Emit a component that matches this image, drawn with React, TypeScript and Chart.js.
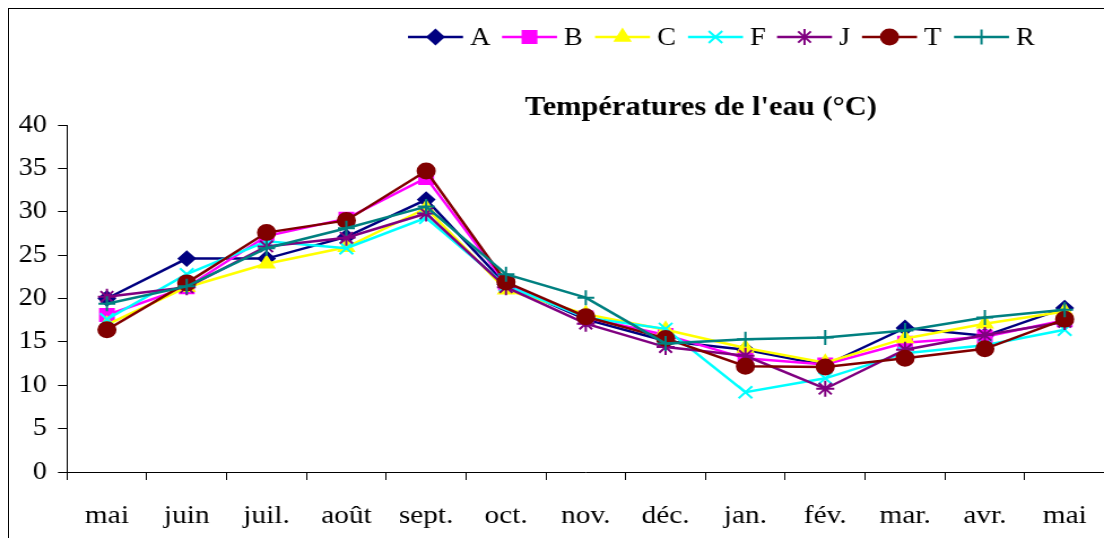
import React, { useEffect, useRef } from "react";
import { Chart, registerables } from "chart.js";

Chart.register(...registerables);

const MONTHS = ["mai", "juin", "juil.", "août", "sept.", "oct.", "nov.", "déc.", "jan.", "fév.", "mar.", "avr.", "mai"];

const SERIES_A = [20.0, 24.6, 24.6, 27.1, 31.4, 21.6, 17.6, 15.1, 14.1, 12.3, 16.6, 15.7, 18.9];
const SERIES_B = [18.1, 21.3, 27.2, 29.2, 33.9, 21.7, 17.8, 15.8, 13.1, 12.4, 14.9, 15.6, 17.5];
const SERIES_C = [17.0, 21.3, 24.0, 25.9, 30.4, 21.0, 18.2, 16.4, 14.3, 12.6, 15.4, 17.1, 18.5];
const SERIES_F = [17.6, 22.8, 26.6, 25.8, 29.3, 21.5, 17.8, 16.5, 9.2, 10.8, 13.7, 14.6, 16.4];
const SERIES_J = [20.2, 21.3, 26.0, 27.0, 29.8, 21.3, 17.1, 14.4, 13.4, 9.6, 14.1, 15.8, 17.3];
const SERIES_T = [16.4, 21.8, 27.6, 29.0, 34.7, 21.9, 17.9, 15.4, 12.2, 12.1, 13.1, 14.2, 17.6];
const SERIES_R = [19.4, 21.4, 25.8, 28.1, 30.6, 22.8, 20.1, 14.8, 15.3, 15.5, 16.3, 17.8, 18.7];

const SERIES_NAMES = ["A", "B", "C", "F", "J", "T", "R"];
const SERIES_DATA = [SERIES_A, SERIES_B, SERIES_C, SERIES_F, SERIES_J, SERIES_T, SERIES_R];
const SERIES_COLORS = ["#000080", "#FF00FF", "#FFFF00", "#00FFFF", "#800080", "#800000", "#008080"];
const SERIES_STYLES = ["rectRot", "rect", "triangle", "crossRot", "star", "circle", "cross"];
const SERIES_RADII = [7, 8.5, 7.5, 8.5, 8, 7.5, 7.5];

const TITLE = "Températures de l'eau (°C)";
const Y_MIN = 0;
const Y_MAX = 40;
const Y_STEP = 5;

const S = 1.13; // horizontal stretch of the reference
const FONT = "'Liberation Serif', 'Times New Roman', serif";
const LEGEND_X = [408, 502, 595, 688, 777, 862, 954];
const CW = 988;

function drawMarker(ctx: CanvasRenderingContext2D, style: string, x: number, y: number, r: number, color: string) {
  ctx.save();
  ctx.fillStyle = color;
  ctx.strokeStyle = color;
  ctx.lineWidth = 2;
  ctx.beginPath();
  const q = Math.SQRT1_2 * r;
  switch (style) {
    case "rectRot":
      ctx.moveTo(x - r, y);
      ctx.lineTo(x, y - r);
      ctx.lineTo(x + r, y);
      ctx.lineTo(x, y + r);
      ctx.closePath();
      ctx.fill();
      ctx.stroke();
      break;
    case "rect":
      ctx.rect(x - q, y - q, 2 * q, 2 * q);
      ctx.fill();
      ctx.stroke();
      break;
    case "triangle": {
      for (let k = 0; k < 3; k++) {
        const a = (k * 2 * Math.PI) / 3;
        const px = x + Math.sin(a) * r;
        const py = y - Math.cos(a) * r;
        if (k === 0) ctx.moveTo(px, py);
        else ctx.lineTo(px, py);
      }
      ctx.closePath();
      ctx.fill();
      ctx.stroke();
      break;
    }
    case "crossRot":
      ctx.moveTo(x - q, y - q);
      ctx.lineTo(x + q, y + q);
      ctx.moveTo(x - q, y + q);
      ctx.lineTo(x + q, y - q);
      ctx.stroke();
      break;
    case "star":
      ctx.moveTo(x - q, y - q);
      ctx.lineTo(x + q, y + q);
      ctx.moveTo(x - q, y + q);
      ctx.lineTo(x + q, y - q);
      ctx.moveTo(x, y - r);
      ctx.lineTo(x, y + r);
      ctx.moveTo(x - r, y);
      ctx.lineTo(x + r, y);
      ctx.stroke();
      break;
    case "circle":
      ctx.arc(x, y, r, 0, Math.PI * 2);
      ctx.fill();
      ctx.stroke();
      break;
    case "cross":
      ctx.moveTo(x, y - r);
      ctx.lineTo(x, y + r);
      ctx.moveTo(x - r, y);
      ctx.lineTo(x + r, y);
      ctx.stroke();
      break;
  }
  ctx.restore();
}

const overlayPlugin = {
  id: "overlayLegendTitle",
  afterDraw(chart: any) {
    const ctx: CanvasRenderingContext2D = chart.ctx;
    ctx.save();
    // title
    ctx.fillStyle = "#000";
    ctx.font = `bold 27px ${FONT}`;
    ctx.textAlign = "center";
    ctx.textBaseline = "middle";
    ctx.fillText(TITLE, 701 / S, 108);
    // legend
    const ly = 37;
    ctx.font = `25px ${FONT}`;
    ctx.textAlign = "left";
    SERIES_NAMES.forEach((name, i) => {
      const x0 = LEGEND_X[i] / S;
      const x1 = (LEGEND_X[i] + 55) / S;
      ctx.strokeStyle = SERIES_COLORS[i];
      ctx.lineWidth = 2.5;
      ctx.beginPath();
      ctx.moveTo(x0, ly);
      ctx.lineTo(x1, ly);
      ctx.stroke();
      drawMarker(ctx, SERIES_STYLES[i], (x0 + x1) / 2, ly, SERIES_RADII[i], SERIES_COLORS[i]);
      ctx.fillStyle = "#000";
      ctx.fillText(name, (LEGEND_X[i] + 62) / S, ly + 1);
    });
    ctx.restore();
  },
};

export default function App() {
  const ref = useRef<HTMLCanvasElement | null>(null);

  useEffect(() => {
    if (!ref.current) return;
    const chart = new Chart(ref.current, {
      type: "line",
      data: {
        labels: MONTHS,
        datasets: SERIES_NAMES.map((name, i) => ({
          label: name,
          data: SERIES_DATA[i],
          borderColor: SERIES_COLORS[i],
          backgroundColor: SERIES_COLORS[i],
          pointBackgroundColor: SERIES_COLORS[i],
          pointBorderColor: SERIES_COLORS[i],
          pointStyle: SERIES_STYLES[i] as any,
          pointRadius: SERIES_RADII[i],
          pointBorderWidth: 2,
          borderWidth: 2.5,
          tension: 0,
          fill: false,
          order: SERIES_NAMES.length - i,
        })),
      },
      options: {
        responsive: false,
        animation: false,
        layout: { padding: { top: 125, left: 0, right: 0, bottom: 0 } },
        plugins: {
          legend: { display: false },
          title: { display: false },
          tooltip: { enabled: false },
        },
        scales: {
          x: {
            offset: true,
            grid: { offset: true, drawOnChartArea: false, drawTicks: true, tickLength: 8, color: "#000", lineWidth: 1 },
            border: { color: "#000", width: 1 },
            ticks: { font: { family: FONT, size: 26 }, color: "#000", padding: 21, maxRotation: 0, autoSkip: false },
            afterFit: (s: any) => {
              s.height = 66;
            },
          },
          y: {
            min: Y_MIN,
            max: Y_MAX,
            grid: { drawOnChartArea: false, drawTicks: true, tickLength: 8, color: "#000", lineWidth: 1 },
            border: { color: "#000", width: 1 },
            ticks: { stepSize: Y_STEP, font: { family: FONT, size: 25 }, color: "#000", padding: 9.7 },
            afterFit: (s: any) => {
              s.width = 59.3;
            },
          },
        },
      },
      plugins: [overlayPlugin],
    });
    return () => chart.destroy();
  }, []);

  return (
    <div style={{ position: "fixed", left: 0, top: 0, width: 1104, height: 538, overflow: "hidden", background: "#fff" }}>
      <div
        style={{
          position: "absolute",
          left: 8,
          top: 8,
          width: 1200,
          height: 600,
          borderLeft: "1.5px solid #000",
          borderTop: "1.5px solid #000",
        }}
      />
      <div style={{ position: "absolute", left: 0, top: 0, width: CW, height: 538, transform: `scaleX(${S})`, transformOrigin: "0 0" }}>
        <canvas ref={ref} width={CW} height={538} style={{ display: "block" }} />
      </div>
    </div>
  );
}
